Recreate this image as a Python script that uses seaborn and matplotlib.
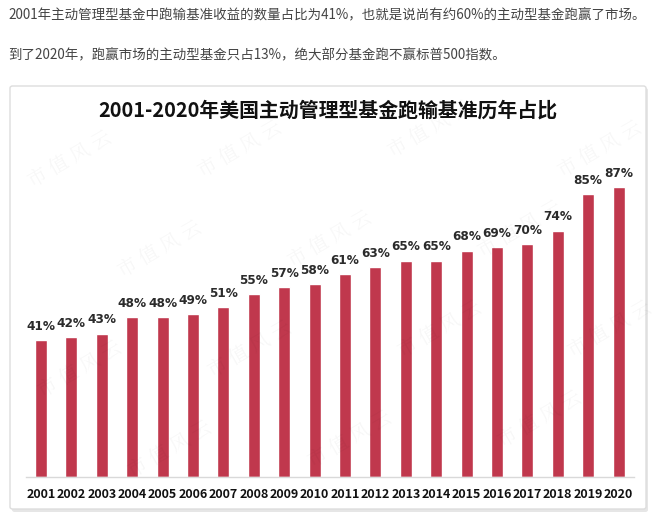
import matplotlib
matplotlib.use("Agg")
import matplotlib.pyplot as plt
import seaborn as sns
import pandas as pd
from matplotlib.patches import FancyBboxPatch

years = [str(y) for y in range(2001, 2021)]
share = [41, 42, 43, 48, 48, 49, 51, 55, 57, 58, 61, 63, 65, 65, 68, 69, 70, 74, 85, 87]

line1 = "2001年主动管理型基金中跑输基准收益的数量占比为41%，也就是说尚有约60%的主动型基金跑赢了市场。"
line2 = "到了2020年，跑赢市场的主动型基金只占13%，绝大部分基金跑不赢标普500指数。"
title = "2001-2020年美国主动管理型基金跑输基准历年占比"

sns.set_theme(style="white")
plt.rcParams['font.family'] = ['Noto Sans CJK SC', 'DejaVu Sans']

df = pd.DataFrame({'年份': years, '占比': share})

fig = plt.figure(figsize=(6.6, 5.19), dpi=100)
W, H = 660, 519

# header text lines
fig.text(8 / W, 1 - 15 / H, line1, fontsize=9.7, color='#444444', va='center', ha='left')
fig.text(8 / W, 1 - 55 / H, line2, fontsize=9.7, color='#444444', va='center', ha='left')

# card with shadow
shadow = FancyBboxPatch((12 / W, 1 - 512 / H), 636 / W, 424 / H,
                        boxstyle="round,pad=0,rounding_size=0.004",
                        transform=fig.transFigure, facecolor='#e6e6e6', edgecolor='none', zorder=0)
card = FancyBboxPatch((10 / W, 1 - 509 / H), 636 / W, 423 / H,
                      boxstyle="round,pad=0,rounding_size=0.004",
                      transform=fig.transFigure, facecolor='white', edgecolor='#dddddd',
                      linewidth=1, zorder=0.5)
fig.patches.extend([shadow, card])

fig.text(0.5 * (10 + 646) / W, 1 - 110 / H, title, fontsize=14.3, fontweight='bold',
         color='#111111', ha='center', va='center')

# faint watermarks
for (wx, wy) in [(70, 160), (240, 150), (430, 130), (600, 150), (160, 250), (330, 240),
                 (520, 230), (80, 370), (250, 350), (440, 330), (610, 330), (170, 450),
                 (350, 440), (540, 420)]:
    fig.text(wx / W, 1 - wy / H, "市 值 风 云", fontsize=14, color='#000000', alpha=0.035,
             rotation=30, ha='center', va='center', family='Noto Serif CJK SC')

ax = fig.add_axes([25.8 / W, 1 - 477 / H, 608 / W, 333 / H])
ax.set_zorder(2)
ax.patch.set_alpha(0)
sns.barplot(data=df, x='年份', y='占比', color='#C0384D', saturation=1, width=0.4, ax=ax)
ax.set_ylim(0, 100)
ax.set_xlim(-0.5, len(years) - 0.5)
ax.set_xlabel('')
ax.set_ylabel('')
ax.set_yticks([])
for s in ['top', 'right', 'left']:
    ax.spines[s].set_visible(False)
ax.spines['bottom'].set_color('#d9d9d9')
ax.spines['bottom'].set_linewidth(1)
ax.tick_params(axis='x', length=0, pad=8)
for lab in ax.get_xticklabels():
    lab.set_fontfamily(['Noto Sans CJK SC', 'DejaVu Sans'])
    lab.set_fontweight('bold')
    lab.set_fontsize(9)
    lab.set_color('#111111')

for i, v in enumerate(share):
    ax.text(i, v + 2.2, f"{v}%", ha='center', va='bottom', fontsize=8.7, fontweight='bold',
            color='#2b2b2b', family='DejaVu Sans')

fig.savefig('out.png', dpi=100)
